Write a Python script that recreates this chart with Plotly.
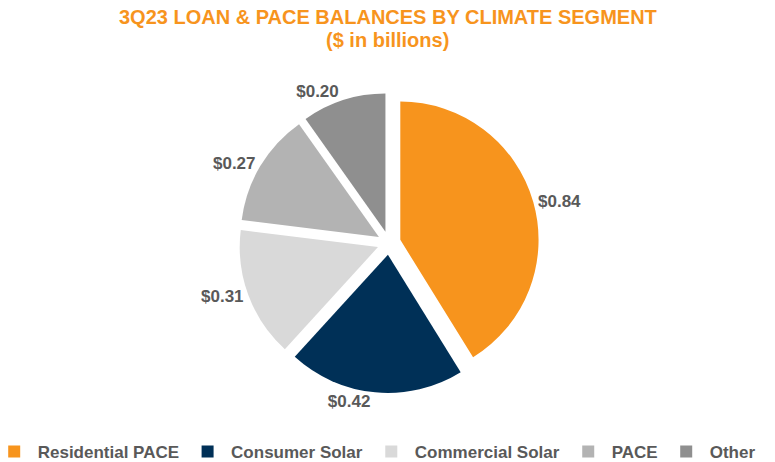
import plotly.graph_objects as go

# Climate segment balances, $ billions
segments = ["Residential PACE", "Consumer Solar", "Commercial Solar", "PACE", "Other"]
balances = [0.84, 0.42, 0.31, 0.27, 0.20]
segment_colors = ["#F7941D", "#003057", "#D9D9D9", "#B3B3B3", "#8F8F8F"]

title_line1 = "3Q23 LOAN & PACE BALANCES BY CLIMATE SEGMENT"
title_line2 = "($ in billions)"

W, H = 775, 462
BOTTOM = 28  # strip under the plot area that holds the legend
FONT = "Liberation Sans, Arial, sans-serif"
TEXT_GRAY = "#595959"
ORANGE = "#F7941D"

PH = H - BOTTOM  # plot-area height in px


def py(pixel_from_top):
    """Convert a pixel row (from the top of the page) to paper y."""
    return (PH - pixel_from_top) / PH


# pie placement in pixels (centre and half-size of the domain box)
cx, cy, half = 389, 243, 150

fig = go.Figure(
    go.Pie(
        labels=segments,
        values=balances,
        marker=dict(colors=segment_colors),
        sort=False,
        direction="clockwise",
        rotation=0,
        pull=0.085,
        texttemplate="$%{value:.2f}",
        textposition="outside",
        textfont=dict(family=FONT, size=17, color=TEXT_GRAY, weight="bold"),
        hoverinfo="label+value",
        domain=dict(
            x=[(cx - half) / W, (cx + half) / W],
            y=[py(cy + half), py(cy - half)],
        ),
        showlegend=True,
    )
)

fig.update_layout(
    width=W,
    height=H,
    margin=dict(l=0, r=0, t=0, b=BOTTOM, autoexpand=False),
    paper_bgcolor="white",
    plot_bgcolor="white",
    font=dict(family=FONT, color=TEXT_GRAY),
    legend=dict(
        orientation="h",
        x=-0.012,
        xanchor="left",
        y=0,
        yanchor="top",
        itemwidth=37,
        font=dict(family=FONT, size=17, color=TEXT_GRAY, weight="bold"),
        itemclick=False,
        itemdoubleclick=False,
    ),
    annotations=[
        dict(
            text=f"<b>{title_line1}</b>",
            x=0.5, xref="paper", xanchor="center",
            y=py(17), yref="paper", yanchor="middle",
            showarrow=False,
            font=dict(family=FONT, size=20, color=ORANGE),
        ),
        dict(
            text=f"<b>{title_line2}</b>",
            x=0.5, xref="paper", xanchor="center",
            y=py(40), yref="paper", yanchor="middle",
            showarrow=False,
            font=dict(family=FONT, size=20, color=ORANGE),
        ),
    ],
)

fig.write_html("out.html")
